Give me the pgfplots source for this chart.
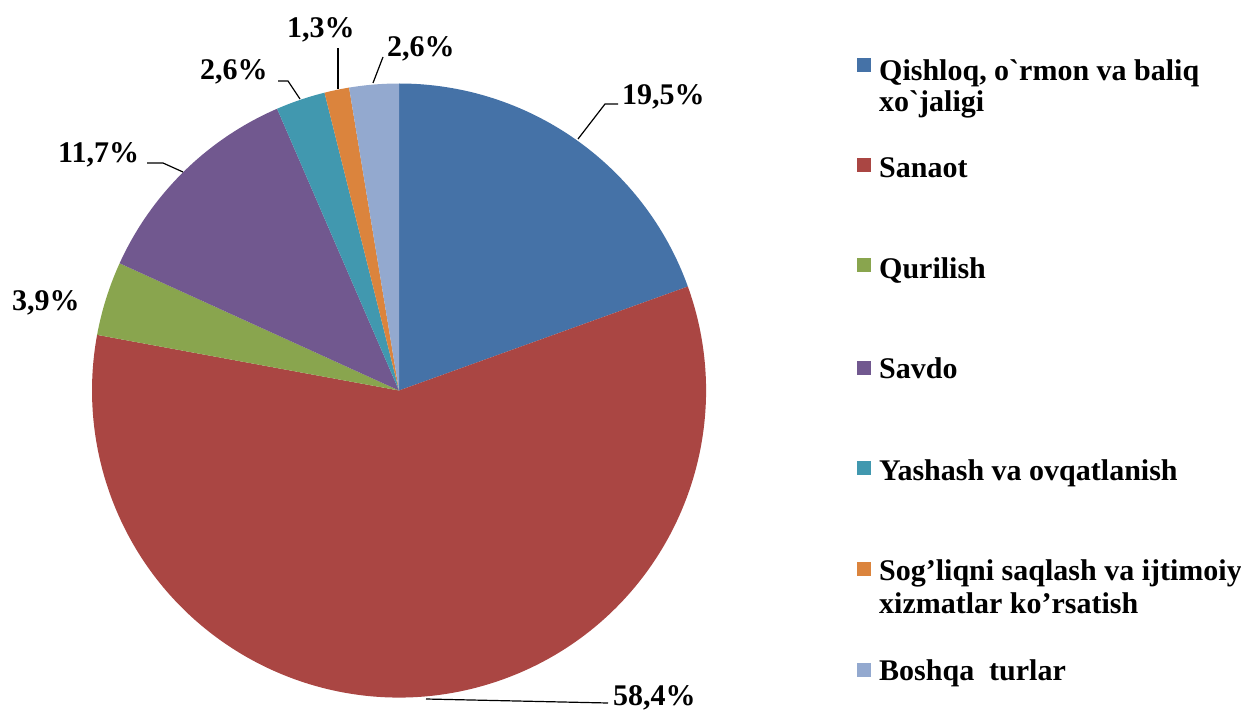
\documentclass[border=0pt]{standalone}
\usepackage{pgfplots}
\pgfplotsset{compat=1.18}
\usepackage{pgfplotstable}
\usepackage{fontspec}
\newfontfamily\lbs{Liberation Serif}
\definecolor{c0}{RGB}{69,114,167}
\definecolor{c1}{RGB}{170,70,67}
\definecolor{c2}{RGB}{137,165,78}
\definecolor{c3}{RGB}{113,88,143}
\definecolor{c4}{RGB}{65,152,175}
\definecolor{c5}{RGB}{219,132,61}
\definecolor{c6}{RGB}{147,169,207}
% shares in percent, clockwise from 12 o'clock
\pgfplotstableread{
value
19.5
58.4
3.9
11.7
2.6
1.3
2.6
}\piedata
\newcommand\lf{\lbs\bfseries\fontsize{30}{31}\selectfont}
\begin{document}
\begin{tikzpicture}
\begin{axis}[hide axis, scale only axis, width=1241pt, height=714pt,
  xmin=0, xmax=1241, ymin=0, ymax=714, y dir=reverse, clip=false]
\gdef\cum{0}
\pgfplotsinvokeforeach{0,...,6}{
  \pgfplotstablegetelem{#1}{value}\of\piedata
  \pgfmathsetmacro\aA{90-3.6*\cum}
  \pgfmathsetmacro\newcum{\cum+\pgfplotsretval}
  \pgfmathsetmacro\aB{90-3.6*\newcum}
  \edef\doslice{\noexpand\fill[c#1] (axis cs:399,390.5) -- ++(\aA:307pt) arc[start angle=\aA, end angle=\aB, radius=307pt] -- cycle;}
  \doslice
  \global\let\cum\newcum
}
% leader lines
\addplot[black, line width=1.2pt] coordinates {(578,139) (605,104) (618,104)};
\addplot[black, line width=1.2pt] coordinates {(426,699) (608,703)};
\addplot[black, line width=1.2pt] coordinates {(183,172) (163,163) (147,163)};
\addplot[black, line width=1.2pt] coordinates {(300,99) (288,81) (278,81)};
\addplot[black, line width=1.2pt] coordinates {(338,89) (338,48)};
\addplot[black, line width=1.2pt] coordinates {(373,83) (383,57)};
% data labels
\begin{scope}[every node/.style={anchor=base west, inner sep=0pt, font=\lf}]
\node at (axis cs:622,105) {19,5\%};
\node at (axis cs:613,705) {58,4\%};
\node at (axis cs:12,310) {3,9\%};
\node at (axis cs:58,163) {11,7\%};
\node at (axis cs:200,80) {2,6\%};
\node at (axis cs:287,38) {1,3\%};
\node at (axis cs:387,57) {2,6\%};
% legend
\fill[c0] (axis cs:857,58) rectangle (axis cs:871,72);
\fill[c1] (axis cs:857,158) rectangle (axis cs:871,172);
\fill[c2] (axis cs:857,258) rectangle (axis cs:871,272);
\fill[c3] (axis cs:857,361) rectangle (axis cs:871,375);
\fill[c4] (axis cs:857,461) rectangle (axis cs:871,475);
\fill[c5] (axis cs:857,562) rectangle (axis cs:871,576);
\fill[c6] (axis cs:857,663) rectangle (axis cs:871,677);
\node at (axis cs:879,81) {Qishloq, o`rmon va baliq};
\node at (axis cs:879,112) {xo`jaligi};
\node at (axis cs:879,178) {Sanaot};
\node at (axis cs:879,278) {Qurilish};
\node at (axis cs:879,378) {Savdo};
\node at (axis cs:879,480) {Yashash va ovqatlanish};
\node at (axis cs:879,580) {Sog’liqni saqlash va ijtimoiy};
\node at (axis cs:879,613) {xizmatlar ko’rsatish};
\node at (axis cs:879,680) {Boshqa~~turlar};
\end{scope}
\end{axis}
\pgfresetboundingbox
\path (current axis.south west) rectangle (current axis.north east);
\end{tikzpicture}
\end{document}
